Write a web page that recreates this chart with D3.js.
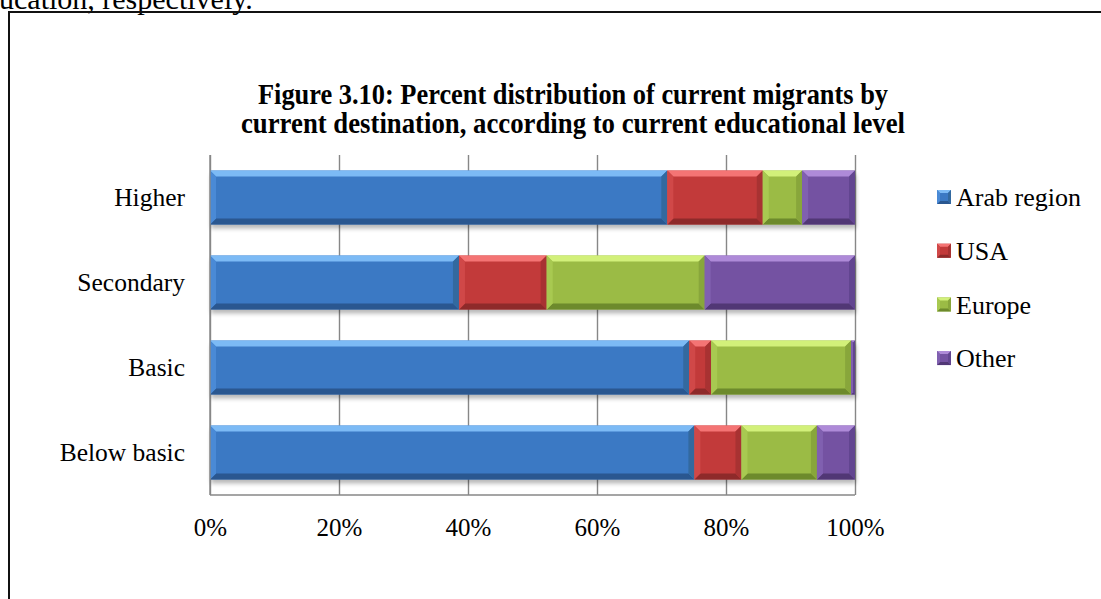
<!DOCTYPE html>
<html>
<head>
<meta charset="utf-8">
<script src="https://cdn.jsdelivr.net/npm/d3@7/dist/d3.min.js"></script>
<style>
  html, body { margin: 0; padding: 0; background: #fff; overflow: hidden; }
  svg { display: block; font-family: "Liberation Serif", "Times New Roman", serif; }
</style>
</head>
<body>
<svg id="chart" width="1101" height="599"></svg>
<script>
// Educational levels, top to bottom
const categories = ["Higher", "Secondary", "Basic", "Below basic"];
// Share of current migrants (%) by destination
const arabRegion = [70.9, 38.6, 74.3, 75.1];
const usa        = [14.8, 13.6, 3.4, 7.3];
const europe     = [6.1, 24.5, 21.7, 11.7];
const other      = [8.2, 23.3, 0.6, 5.9];
const seriesNames = ["Arab region", "USA", "Europe", "Other"];
const tickValues = [0, 0.2, 0.4, 0.6, 0.8, 1];

const rows = categories.map((c, i) => ({
  category: c,
  "Arab region": arabRegion[i],
  "USA": usa[i],
  "Europe": europe[i],
  "Other": other[i]
}));

// Base, highlight and shade tones per series
const palette = {
  "Arab region": { body: "#3b79c4", light: "#7cbaf5", mid: "#4a8ad6", dark: "#2a5790", side: "#33699f" },
  "USA":         { body: "#c23a3a", light: "#f47474", mid: "#d04848", dark: "#8e2a2a", side: "#a83232" },
  "Europe":      { body: "#9bbb45", light: "#d2f07a", mid: "#a8c951", dark: "#6d8a2c", side: "#88a63b" },
  "Other":       { body: "#7452a2", light: "#ae8ad8", mid: "#8060b0", dark: "#513775", side: "#624590" }
};

const svg = d3.select("#chart");

// Text of the page above the figure
svg.append("text")
  .attr("x", -1).attr("y", 9)
  .attr("font-size", 30)
  .attr("fill", "#000")
  .text("ucation, respectively.");

// Figure frame
svg.append("path")
  .attr("d", "M9,610 L9,12 L1110,12")
  .attr("fill", "none")
  .attr("stroke", "#111")
  .attr("stroke-width", 2);

// Title
const titleLines = [
  { text: "Figure 3.10: Percent distribution of current migrants by", y: 104, len: 630 },
  { text: "current destination, according to current educational level", y: 133, len: 664 }
];
svg.append("g").selectAll("text").data(titleLines).join("text")
  .attr("x", 573).attr("y", d => d.y)
  .attr("text-anchor", "middle")
  .attr("font-size", 28.5)
  .attr("font-weight", "bold")
  .attr("textLength", d => d.len)
  .attr("lengthAdjust", "spacingAndGlyphs")
  .text(d => d.text);

// Scales
const x = d3.scaleLinear().domain([0, 1]).range([210, 855]);
const y = d3.scaleBand().domain(categories).range([155, 495])
  .paddingInner(0.365).paddingOuter(0.1825);

const defs = svg.append("defs");
const shadow = defs.append("filter").attr("id", "barShadow")
  .attr("x", "-5%").attr("y", "-20%").attr("width", "110%").attr("height", "160%");
shadow.append("feGaussianBlur").attr("stdDeviation", 2);

// Gridlines
svg.append("g")
  .attr("transform", "translate(0,495)")
  .call(d3.axisBottom(x).tickValues(tickValues).tickSize(-340).tickFormat(""))
  .call(g => g.select(".domain").remove())
  .call(g => g.selectAll("line").attr("stroke", "#878787").attr("stroke-width", 1.4));

// Bottom axis line
svg.append("line")
  .attr("x1", x(0)).attr("x2", x(1)).attr("y1", 495).attr("y2", 495)
  .attr("stroke", "#878787").attr("stroke-width", 1.4);

// Stack the series
const stacked = d3.stack().keys(seriesNames)(rows);

function bevel(g, x0, y0, w, h, c, b) {
  const x1 = x0 + w, y1 = y0 + h;
  const bb = Math.min(b, w / 2, h / 2);
  g.append("rect").attr("x", x0).attr("y", y0).attr("width", w).attr("height", h).attr("fill", c.body);
  g.append("polygon")
    .attr("points", [[x0, y0], [x1, y0], [x1 - bb, y0 + bb], [x0 + bb, y0 + bb]].join(" "))
    .attr("fill", c.light);
  g.append("polygon")
    .attr("points", [[x0, y1], [x1, y1], [x1 - bb, y1 - bb], [x0 + bb, y1 - bb]].join(" "))
    .attr("fill", c.dark);
  g.append("polygon")
    .attr("points", [[x0, y0], [x0 + bb, y0 + bb], [x0 + bb, y1 - bb], [x0, y1]].join(" "))
    .attr("fill", c.mid);
  g.append("polygon")
    .attr("points", [[x1, y0], [x1 - bb, y0 + bb], [x1 - bb, y1 - bb], [x1, y1]].join(" "))
    .attr("fill", c.side);
}

// Shadows beneath each bar
svg.append("g").selectAll("rect").data(rows).join("rect")
  .attr("x", x(0) + 1)
  .attr("y", d => y(d.category) + 4)
  .attr("width", x(1) - x(0))
  .attr("height", y.bandwidth())
  .attr("fill", "#000")
  .attr("opacity", 0.28)
  .attr("filter", "url(#barShadow)");

const barLayer = svg.append("g");
stacked.forEach(layer => {
  const c = palette[layer.key];
  layer.forEach((seg, i) => {
    const x0 = x(seg[0] / 100), x1 = x(seg[1] / 100);
    const g = barLayer.append("g");
    bevel(g, x0, y(categories[i]), x1 - x0, y.bandwidth(), c, 6);
  });
});

// Left axis line
svg.append("line")
  .attr("x1", x(0)).attr("x2", x(0)).attr("y1", 155).attr("y2", 495)
  .attr("stroke", "#878787").attr("stroke-width", 1.4);

// Category labels
svg.append("g")
  .attr("transform", `translate(${x(0)},0)`)
  .call(d3.axisLeft(y).tickSize(0).tickPadding(25))
  .call(g => g.select(".domain").remove())
  .call(g => g.selectAll("text")
    .attr("font-family", "Liberation Serif, Times New Roman, serif")
    .attr("font-size", 25.5).attr("fill", "#000"));

// Percent tick labels
svg.append("g")
  .attr("transform", "translate(0,495)")
  .call(d3.axisBottom(x).tickValues(tickValues).tickSize(0).tickPadding(23).tickFormat(d3.format(".0%")))
  .call(g => g.select(".domain").remove())
  .call(g => g.selectAll("text")
    .attr("font-family", "Liberation Serif, Times New Roman, serif")
    .attr("font-size", 25).attr("fill", "#000"));

// Legend
const legend = svg.append("g").selectAll("g").data(seriesNames).join("g")
  .attr("transform", (d, i) => `translate(937,${197 + i * 53.7})`);
legend.each(function(d) {
  bevel(d3.select(this), 0, -7, 14, 14, palette[d], 3);
});
legend.append("text")
  .attr("x", 19).attr("y", 0).attr("dy", "0.35em")
  .attr("font-size", 26).attr("fill", "#000")
  .text(d => d);
</script>
</body>
</html>
